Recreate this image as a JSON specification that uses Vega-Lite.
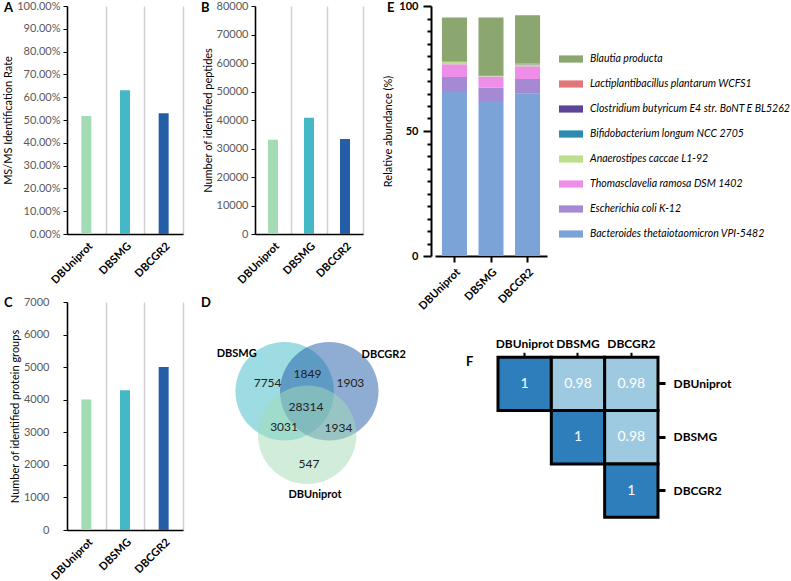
{
  "$schema": "https://vega.github.io/schema/vega-lite/v6.json",
  "padding": {"left": 2, "top": 0, "right": 0, "bottom": 0},
  "background": "white",
  "config": {
    "font": "Lato",
    "view": {"stroke": null},
    "axis": {"labelFont": "Lato", "titleFont": "Lato", "titleFontWeight": "normal", "titleColor": "#000", "domainColor": "#000", "tickColor": "#000"},
    "title": {"font": "Lato", "fontSize": 13, "fontWeight": "bold", "anchor": "start", "frame": "group", "color": "#000"}
  },
  "datasets": {
    "ms": [
      {"db": "DBUniprot", "rate": 0.518, "peptides": 33100, "proteins": 4010},
      {"db": "DBSMG", "rate": 0.63, "peptides": 40800, "proteins": 4290},
      {"db": "DBCGR2", "rate": 0.53, "peptides": 33300, "proteins": 5005}
    ],
    "abund": [
      {"db": "DBUniprot", "species": "Bacteroides thetaiotaomicron VPI-5482", "rank": 1, "pct": 65.6},
      {"db": "DBUniprot", "species": "Escherichia coli K-12", "rank": 2, "pct": 6.0},
      {"db": "DBUniprot", "species": "Thomasclavelia ramosa DSM 1402", "rank": 3, "pct": 5.1},
      {"db": "DBUniprot", "species": "Anaerostipes caccae L1-92", "rank": 4, "pct": 1.0},
      {"db": "DBUniprot", "species": "Bifidobacterium longum NCC 2705", "rank": 5, "pct": 0.05},
      {"db": "DBUniprot", "species": "Clostridium butyricum E4 str. BoNT E BL5262", "rank": 6, "pct": 0.05},
      {"db": "DBUniprot", "species": "Lactiplantibacillus plantarum WCFS1", "rank": 7, "pct": 0.05},
      {"db": "DBUniprot", "species": "Blautia producta", "rank": 8, "pct": 17.6},
      {"db": "DBSMG", "species": "Bacteroides thetaiotaomicron VPI-5482", "rank": 1, "pct": 62.0},
      {"db": "DBSMG", "species": "Escherichia coli K-12", "rank": 2, "pct": 5.3},
      {"db": "DBSMG", "species": "Thomasclavelia ramosa DSM 1402", "rank": 3, "pct": 4.5},
      {"db": "DBSMG", "species": "Anaerostipes caccae L1-92", "rank": 4, "pct": 0.2},
      {"db": "DBSMG", "species": "Bifidobacterium longum NCC 2705", "rank": 5, "pct": 0.05},
      {"db": "DBSMG", "species": "Clostridium butyricum E4 str. BoNT E BL5262", "rank": 6, "pct": 0.05},
      {"db": "DBSMG", "species": "Lactiplantibacillus plantarum WCFS1", "rank": 7, "pct": 0.05},
      {"db": "DBSMG", "species": "Blautia producta", "rank": 8, "pct": 23.3},
      {"db": "DBCGR2", "species": "Bacteroides thetaiotaomicron VPI-5482", "rank": 1, "pct": 64.9},
      {"db": "DBCGR2", "species": "Escherichia coli K-12", "rank": 2, "pct": 5.9},
      {"db": "DBCGR2", "species": "Thomasclavelia ramosa DSM 1402", "rank": 3, "pct": 5.1},
      {"db": "DBCGR2", "species": "Anaerostipes caccae L1-92", "rank": 4, "pct": 0.8},
      {"db": "DBCGR2", "species": "Bifidobacterium longum NCC 2705", "rank": 5, "pct": 0.05},
      {"db": "DBCGR2", "species": "Clostridium butyricum E4 str. BoNT E BL5262", "rank": 6, "pct": 0.05},
      {"db": "DBCGR2", "species": "Lactiplantibacillus plantarum WCFS1", "rank": 7, "pct": 0.2},
      {"db": "DBCGR2", "species": "Blautia producta", "rank": 8, "pct": 19.3}
    ],
    "venn": [
      {"set": "DBSMG", "cx": 83, "cy": 89.3},
      {"set": "DBCGR2", "cx": 132.5, "cy": 89.3},
      {"set": "DBUniprot", "cx": 108, "cy": 132.8}
    ],
    "vennLabels": [
      {"label": "DBSMG", "cx": 29.7, "cy": 52.3},
      {"label": "DBCGR2", "cx": 193, "cy": 53},
      {"label": "DBUniprot", "cx": 116.7, "cy": 193}
    ],
    "vennCounts": [
      {"n": "7754", "cx": 64, "cy": 81.3},
      {"n": "1849", "cx": 108.3, "cy": 71.6},
      {"n": "1903", "cx": 156, "cy": 81.3},
      {"n": "28314", "cx": 106.7, "cy": 104.6},
      {"n": "3031", "cx": 82.3, "cy": 124.6},
      {"n": "1934", "cx": 142.7, "cy": 125.6},
      {"n": "547", "cx": 110, "cy": 161.6}
    ],
    "corr": [
      {"row": "DBUniprot", "col": "DBUniprot", "r": 1},
      {"row": "DBUniprot", "col": "DBSMG", "r": 0.98},
      {"row": "DBUniprot", "col": "DBCGR2", "r": 0.98},
      {"row": "DBSMG", "col": "DBSMG", "r": 1},
      {"row": "DBSMG", "col": "DBCGR2", "r": 0.98},
      {"row": "DBCGR2", "col": "DBCGR2", "r": 1}
    ]
  },
  "columns": 3,
  "align": "none",
  "bounds": "flush",
  "spacing": {"row": 46, "column": 72},
  "resolve": {"scale": {"color": "independent"}},
  "concat": [
    {
      "width": 116,
      "height": 228,
      "title": {"text": "A", "offset": -15, "dx": -63},
      "data": {"name": "ms"},
      "mark": {"type": "bar", "width": 10},
      "encoding": {
        "x": {
          "field": "db", "type": "nominal", "sort": ["DBUniprot", "DBSMG", "DBCGR2"],
          "scale": {"padding": 0},
          "axis": {"title": null, "labelAngle": -45, "labelFontWeight": "bold", "labelFontSize": 11, "labelColor": "#000", "labelPadding": 6,
                   "grid": true, "tickBand": "extent", "ticks": false, "gridColor": "#d0d0d0", "gridWidth": 1.5, "domainWidth": 1.5}
        },
        "y": {
          "field": "rate", "type": "quantitative", "scale": {"domain": [0, 1]},
          "axis": {"title": "MS/MS Identification Rate", "titleFontSize": 11, "titlePadding": 3, "format": ".2%",
                   "values": [0, 0.1, 0.2, 0.3, 0.4, 0.5, 0.6, 0.7, 0.8, 0.9, 1],
                   "grid": false, "labelFontSize": 11, "labelColor": "#595959", "tickSize": 4, "labelPadding": 3, "domainWidth": 1.5}
        },
        "color": {"field": "db", "type": "nominal", "scale": {"domain": ["DBUniprot", "DBSMG", "DBCGR2"], "range": ["#a3dbb5", "#44b8c6", "#235ea6"]}, "legend": null}
      }
    },
    {
      "width": 108,
      "height": 228,
      "title": {"text": "B", "offset": -15, "dx": -54},
      "data": {"name": "ms"},
      "mark": {"type": "bar", "width": 10},
      "encoding": {
        "x": {
          "field": "db", "type": "nominal", "sort": ["DBUniprot", "DBSMG", "DBCGR2"],
          "scale": {"padding": 0},
          "axis": {"title": null, "labelAngle": -45, "labelFontWeight": "bold", "labelFontSize": 11, "labelColor": "#000", "labelPadding": 6,
                   "grid": true, "tickBand": "extent", "ticks": false, "gridColor": "#d0d0d0", "gridWidth": 1.5, "domainWidth": 1.5}
        },
        "y": {
          "field": "peptides", "type": "quantitative", "scale": {"domain": [0, 80000]},
          "axis": {"title": "Number of identified peptides", "titleFontSize": 11, "titlePadding": 3, "format": "d",
                   "values": [0, 10000, 20000, 30000, 40000, 50000, 60000, 70000, 80000],
                   "grid": false, "labelFontSize": 11, "labelColor": "#595959", "tickSize": 4, "labelPadding": 3, "domainWidth": 1.5}
        },
        "color": {"field": "db", "type": "nominal", "scale": {"domain": ["DBUniprot", "DBSMG", "DBCGR2"], "range": ["#a3dbb5", "#44b8c6", "#235ea6"]}, "legend": null}
      }
    },
    {
      "width": 112,
      "height": 250,
      "title": {"text": "E", "offset": -15, "dx": -48},
      "data": {"name": "abund"},
      "mark": {"type": "bar"},
      "encoding": {
        "x": {
          "field": "db", "type": "nominal", "sort": ["DBUniprot", "DBSMG", "DBCGR2"],
          "scale": {"paddingInner": 0.315, "paddingOuter": 0.19},
          "axis": {"title": null, "labelAngle": -45, "labelFontWeight": "bold", "labelFontSize": 11, "labelColor": "#000", "labelPadding": 4,
                   "tickSize": 6, "tickWidth": 2, "domainWidth": 2}
        },
        "y": {
          "field": "pct", "type": "quantitative", "stack": "zero", "scale": {"domain": [0, 100]},
          "axis": {"title": "Relative abundance (%)", "titleFontSize": 11, "titlePadding": 5, "offset": 4,
                   "values": [0, 5, 10, 15, 20, 25, 30, 35, 40, 45, 50, 55, 60, 65, 70, 75, 80, 85, 90, 95, 100],
                   "labelExpr": "datum.value % 50 === 0 ? datum.label : ''",
                   "tickSize": {"condition": {"test": "datum.value % 50 === 0", "value": 8}, "value": 4},
                   "grid": false, "labelFontSize": 11, "labelFontWeight": "bold", "labelColor": "#000", "tickWidth": 2, "labelPadding": 5, "domainWidth": 2}
        },
        "color": {
          "field": "species", "type": "nominal",
          "scale": {
            "domain": ["Blautia producta", "Lactiplantibacillus plantarum WCFS1", "Clostridium butyricum E4 str. BoNT E BL5262", "Bifidobacterium longum NCC 2705", "Anaerostipes caccae L1-92", "Thomasclavelia ramosa DSM 1402", "Escherichia coli K-12", "Bacteroides thetaiotaomicron VPI-5482"],
            "range": ["#8ba66f", "#e2777a", "#5c4497", "#2b8cb0", "#bbdf8e", "#ee8ee8", "#a58ad3", "#7ca3d8"]
          },
          "legend": {"title": null, "orient": "none", "legendX": 124, "legendY": 41, "symbolType": "M-1,-0.3H1V0.3H-1Z", "symbolSize": 576, "symbolStrokeWidth": 0,
                     "labelFont": "Lato", "labelFontSize": 10.5, "labelFontStyle": "italic", "labelColor": "#000", "rowPadding": 7, "labelLimit": 300, "labelOffset": 7}
        },
        "order": {"field": "rank", "type": "quantitative"}
      }
    },
    {
      "width": 116,
      "height": 228,
      "title": {"text": "C", "offset": -14, "dx": -63},
      "data": {"name": "ms"},
      "mark": {"type": "bar", "width": 10},
      "encoding": {
        "x": {
          "field": "db", "type": "nominal", "sort": ["DBUniprot", "DBSMG", "DBCGR2"],
          "scale": {"padding": 0},
          "axis": {"title": null, "labelAngle": -45, "labelFontWeight": "bold", "labelFontSize": 11, "labelColor": "#000", "labelPadding": 6,
                   "grid": true, "tickBand": "extent", "ticks": false, "gridColor": "#d0d0d0", "gridWidth": 1.5, "domainWidth": 1.5}
        },
        "y": {
          "field": "proteins", "type": "quantitative", "scale": {"domain": [0, 7000]},
          "axis": {"title": "Number of identified protein groups", "titleFontSize": 11, "titlePadding": 3, "format": "d",
                   "values": [0, 1000, 2000, 3000, 4000, 5000, 6000, 7000],
                   "grid": false, "labelFontSize": 11, "labelColor": "#595959", "tickSize": 4, "labelPadding": 14, "domainWidth": 1.5}
        },
        "color": {"field": "db", "type": "nominal", "scale": {"domain": ["DBUniprot", "DBSMG", "DBCGR2"], "range": ["#a3dbb5", "#44b8c6", "#235ea6"]}, "legend": null}
      }
    },
    {
      "width": 108,
      "height": 200,
      "title": {"text": "D", "offset": -8, "dx": -54},
      "layer": [
        {
          "data": {"name": "venn"},
          "mark": {"type": "circle", "opacity": 0.5, "size": 9700},
          "encoding": {
            "x": {"field": "cx", "type": "quantitative", "scale": {"domain": [54, 162]}, "axis": null},
            "y": {"field": "cy", "type": "quantitative", "scale": {"domain": [0, 200], "reverse": true}, "axis": null},
            "color": {"field": "set", "type": "nominal", "scale": {"domain": ["DBUniprot", "DBSMG", "DBCGR2"], "range": ["#a3dbb5", "#3bbac6", "#1f5aa6"]}, "legend": null}
          }
        },
        {
          "data": {"name": "vennLabels"},
          "mark": {"type": "text", "fontWeight": "bold", "fontSize": 11, "color": "#000"},
          "encoding": {
            "x": {"field": "cx", "type": "quantitative"},
            "y": {"field": "cy", "type": "quantitative"},
            "text": {"field": "label"}
          }
        },
        {
          "data": {"name": "vennCounts"},
          "mark": {"type": "text", "fontSize": 12, "color": "#222"},
          "encoding": {
            "x": {"field": "cx", "type": "quantitative"},
            "y": {"field": "cy", "type": "quantitative"},
            "text": {"field": "n"}
          }
        }
      ]
    },
    {
      "width": 223,
      "height": 215.3,
      "title": {"text": "F", "offset": -67, "dx": 31},
      "data": {"name": "corr"},
      "encoding": {
        "x": {
          "field": "col", "type": "nominal", "sort": ["DBUniprot", "DBSMG", "DBCGR2"],
          "scale": {"paddingInner": 0, "paddingOuter": 0.5906, "align": 1},
          "axis": {"orient": "top", "offset": -55.3, "title": null, "labelAngle": 0, "labelFontWeight": "bold", "labelFontSize": 12, "labelColor": "#000",
                   "domain": false, "tickWidth": 2, "tickSize": 5, "labelPadding": 2}
        },
        "y": {
          "field": "row", "type": "nominal", "sort": ["DBUniprot", "DBSMG", "DBCGR2"],
          "scale": {"paddingInner": 0, "paddingOuter": 0.518, "align": 1},
          "axis": {"orient": "right", "title": null, "labelFontWeight": "bold", "labelFontSize": 12, "labelColor": "#000",
                   "domain": false, "tickWidth": 3, "tickSize": 7, "labelPadding": 8}
        }
      },
      "layer": [
        {
          "mark": {"type": "rect", "stroke": "#000", "strokeWidth": 3},
          "encoding": {
            "color": {"field": "r", "type": "ordinal", "scale": {"domain": [1, 0.98], "range": ["#2e7ebc", "#9ecae1"]}, "legend": null}
          }
        },
        {
          "mark": {"type": "text", "color": "#ffffff", "fontSize": 14},
          "encoding": {"text": {"field": "r", "type": "quantitative"}}
        }
      ]
    }
  ]
}
